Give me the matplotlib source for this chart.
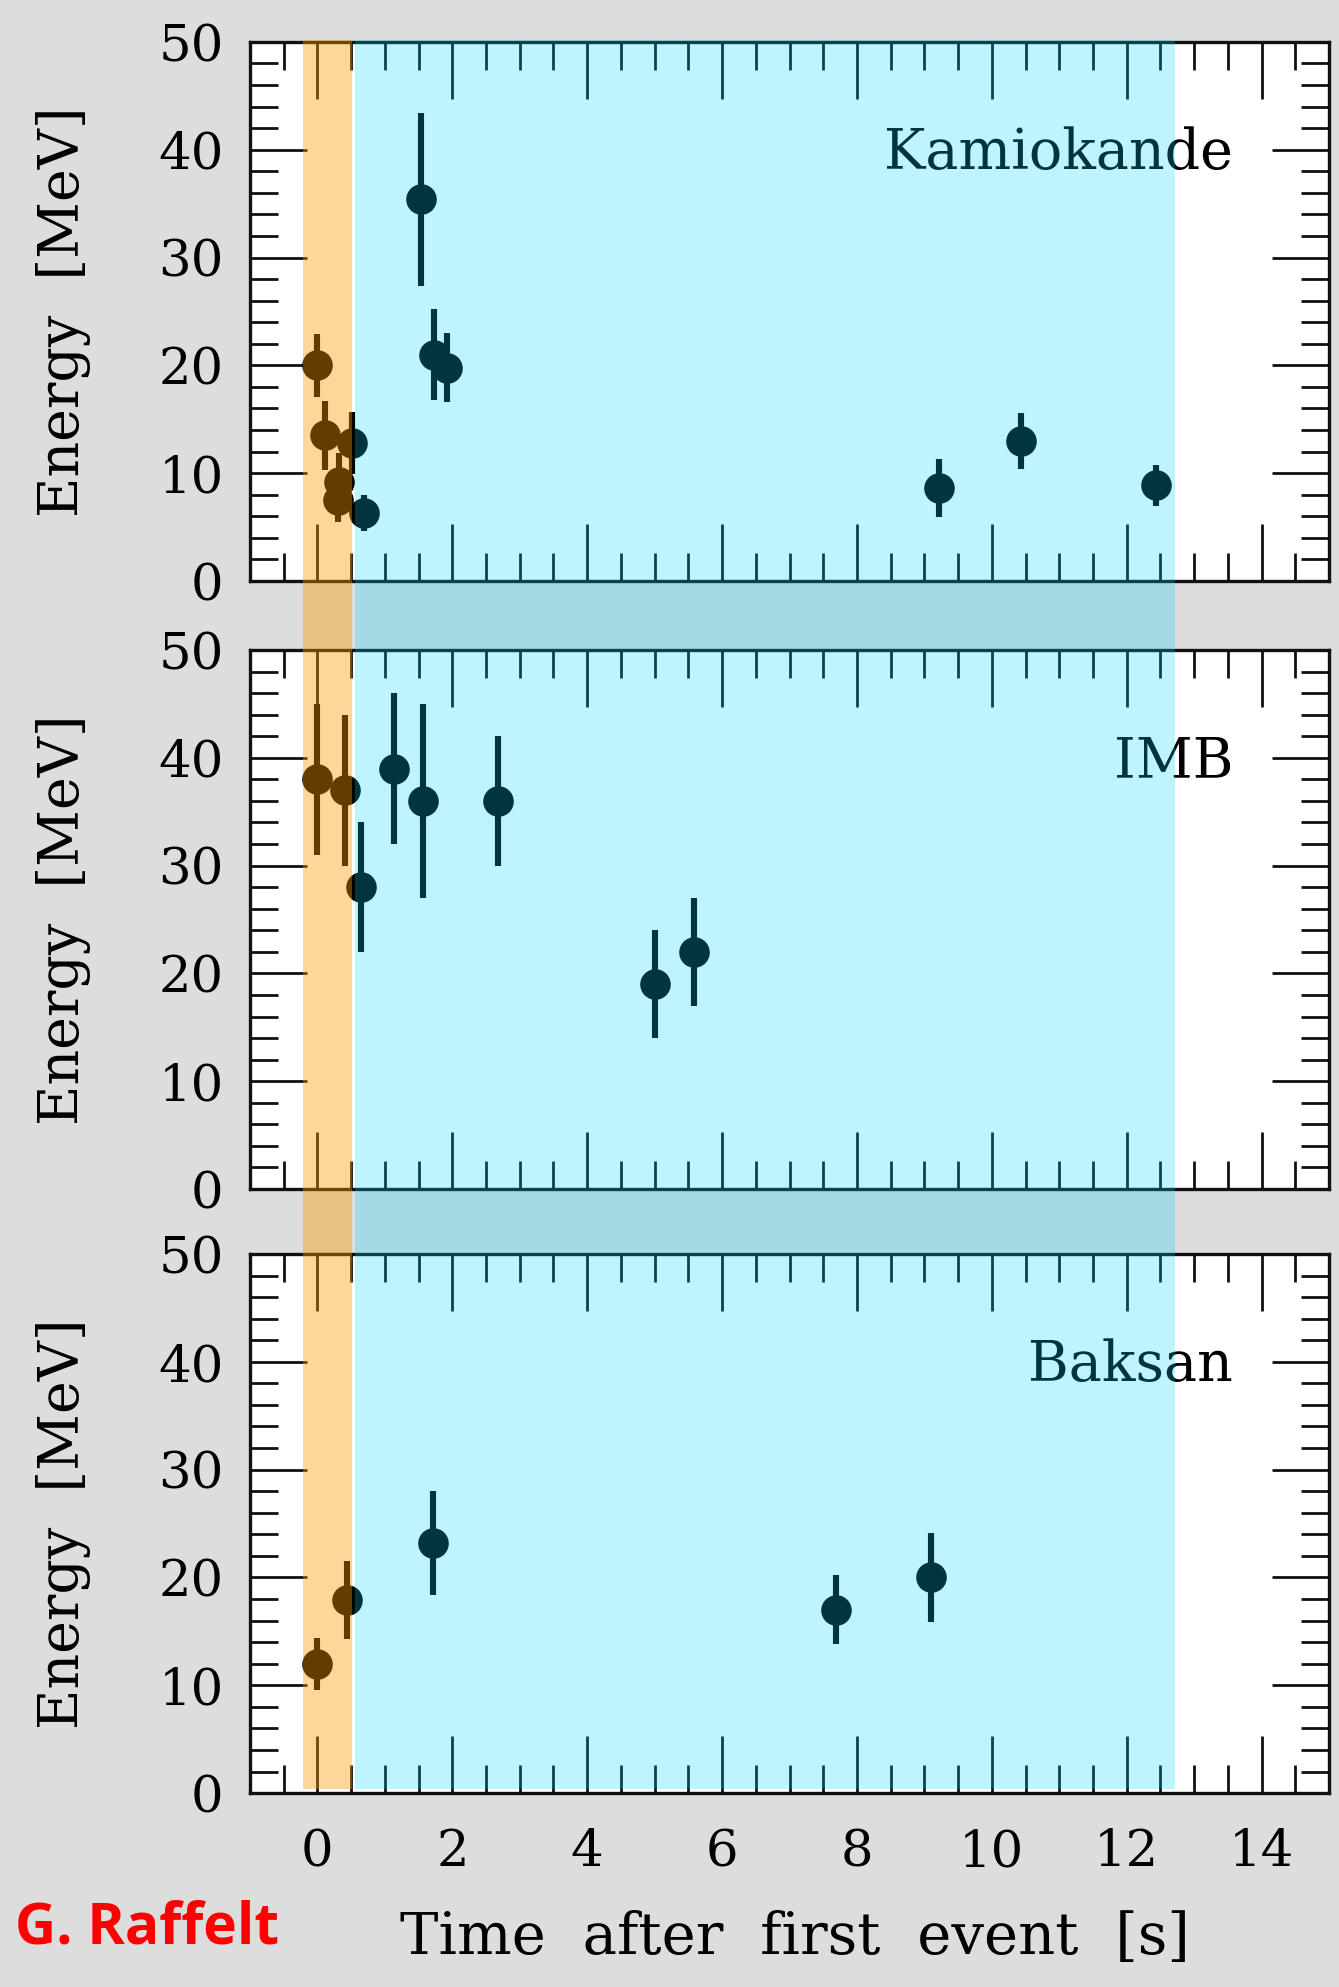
import matplotlib
matplotlib.use("Agg")
import matplotlib.pyplot as plt
from matplotlib.patches import Rectangle
from matplotlib.transforms import blended_transform_factory
from matplotlib.ticker import MultipleLocator

# ---- data (time after first event [s], energy [MeV], error [MeV]) ----
kam_t = [0.0, 0.107, 0.303, 0.324, 0.507, 0.686, 1.541, 1.728, 1.915, 9.219, 10.433, 12.439]
kam_e = [20.0, 13.5, 7.5, 9.2, 12.8, 6.3, 35.4, 21.0, 19.8, 8.6, 13.0, 8.9]
kam_err = [2.9, 3.2, 2.0, 2.7, 2.9, 1.7, 8.0, 4.2, 3.2, 2.7, 2.6, 1.9]

imb_t = [0.0, 0.412, 0.650, 1.141, 1.562, 2.684, 5.010, 5.582]
imb_e = [38.0, 37.0, 28.0, 39.0, 36.0, 36.0, 19.0, 22.0]
imb_err = [7.0, 7.0, 6.0, 7.0, 9.0, 6.0, 5.0, 5.0]

bak_t = [0.0, 0.435, 1.710, 7.687, 9.099]
bak_e = [12.0, 17.9, 23.2, 17.0, 20.0]
bak_err = [2.4, 3.6, 4.8, 3.2, 4.1]

detectors = ["Kamiokande", "IMB", "Baksan"]
series = [(kam_t, kam_e, kam_err), (imb_t, imb_e, imb_err), (bak_t, bak_e, bak_err)]

# shaded time windows [s]
accretion_phase = (-0.21, 0.515)
cooling_phase = (0.55, 12.72)

xticks = [0, 2, 4, 6, 8, 10, 12, 14]
yticks = [0, 10, 20, 30, 40, 50]

plt.rcParams["font.family"] = ["DejaVu Serif"]

W, H = 1339, 1987
fig = plt.figure(figsize=(W / 100, H / 100), dpi=100, facecolor="#dddddd")

left, width, height = 250 / W, 1079 / W, 0.2713
bottoms = [0.7076, 0.4016, 0.0976]

axes = []
for i, (name, (t, e, err)) in enumerate(zip(detectors, series)):
    ax = fig.add_axes([left, bottoms[i], width, height])
    ax.set_facecolor("white")
    ax.set_xlim(-1, 15)
    ax.set_ylim(0, 50)
    ax.set_xticks(xticks)
    ax.set_yticks(yticks)
    ax.xaxis.set_minor_locator(MultipleLocator(0.5))
    ax.yaxis.set_minor_locator(MultipleLocator(2))
    ax.tick_params(which="both", direction="in", top=True, right=True,
                   width=2.0, color="#111111", labelsize=37)
    ax.tick_params(which="major", length=41)
    ax.tick_params(which="minor", length=20)
    ax.tick_params(axis="y", pad=19)
    ax.tick_params(axis="x", pad=25, labelbottom=(i == 2))
    for sp in ax.spines.values():
        sp.set_linewidth(2.4)
        sp.set_color("#111111")
    ax.errorbar(t, e, yerr=err, fmt="o", color="black", ms=21,
                elinewidth=4.4, capsize=0)
    ax.text(13.58, 38.2, name, ha="right", va="baseline", fontsize=40,
            color="black")
    ax.set_ylabel("Energy  [MeV]", fontsize=40)
    ax.yaxis.set_label_coords(-0.147, 0.5)
    axes.append(ax)

fig.text(795 / W, 1 - 1954 / H, "Time  after  first  event  [s]",
         ha="center", va="baseline", fontsize=41.5)
fig.text(15 / W, 1 - 1943 / H, "G. Raffelt", ha="left", va="baseline",
         fontsize=41, color="#ff0000", fontweight="bold",
         family=["Open Sans", "DejaVu Sans"])

# translucent overlays spanning all three panels
band_bottom = bottoms[2] + height * (0.35 / 50)
band_top = bottoms[0] + height * (50.2 / 50)
tr = blended_transform_factory(axes[0].transData, fig.transFigure)
for (x0, x1), col, alpha in [(accretion_phase, "#fa9800", 0.396),
                             (cooling_phase, "#00d4f7", 0.255)]:
    fig.add_artist(Rectangle((x0, band_bottom), x1 - x0, band_top - band_bottom,
                             transform=tr, facecolor=col, alpha=alpha,
                             edgecolor="none", zorder=10))

fig.savefig("out.png", dpi=100, facecolor=fig.get_facecolor())
